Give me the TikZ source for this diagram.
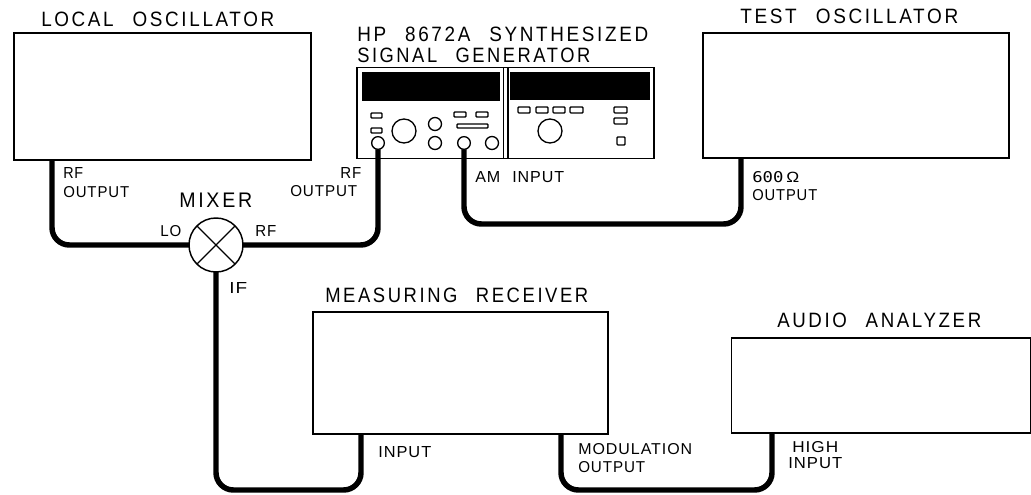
\documentclass[tikz,border=0pt]{standalone}
\usepackage{fontspec}
\usepackage{graphicx}
\setmainfont{Liberation Sans}
\newfontfamily\ttlfont[LetterSpace=14,WordSpace=2.4]{Liberation Sans}
\newfontfamily\lblfont[LetterSpace=6,WordSpace=2.2]{Liberation Sans}
\newfontfamily\zerofont{DejaVu Sans Mono}
\newlength\pxu \setlength\pxu{0.75pt}
\newcommand{\fitT}[2]{\resizebox{#1\pxu}{14.5\pxu}{\ttlfont #2}}
\newcommand{\fitL}[2]{\resizebox{#1\pxu}{11\pxu}{\lblfont #2}}
\tikzset{
  box/.style n args={2}{draw,line width=1pt,fill=white,inner sep=0pt,outer sep=0pt,rectangle,minimum width=#1*0.75pt,minimum height=#2*0.75pt},
  cable/.style={line width=4.1pt,rounded corners=13pt},
  lbl/.style={inner sep=0pt,anchor=north west,align=left},
  ttl/.style={inner sep=0pt,anchor=north west,align=left},
  port/.style={draw,circle,line width=1pt,fill=white,inner sep=0pt,outer sep=0pt,minimum size=9.5pt},
  ctl/.style={draw,line width=1pt,rounded corners=0.7pt},
  knob/.style={draw,line width=1pt},
  panel/.style={fill=black},
}
\begin{document}
\begin{tikzpicture}[x=0.75pt,y=-0.75pt]
\useasboundingbox (0,0) rectangle (1031,495);
\fill[white] (0,0) rectangle (1031,495);
% instruments
\node[box={297}{127}] (lo) at (162.5,96.5) {};
\node[box={306}{125}] (test) at (856,95.5) {};
\node[box={295}{122}] (meas) at (460.5,373) {};
\node[box={299}{95}] (audio) at (881,385.5) {};
\node[box={297}{91}] (gen) at (505.5,113) {};
% generator front panel
\draw[line width=1pt] (503.5,67.5) -- (503.5,158.5) (508,67.5) -- (508,158.5);
\fill[panel] (362,72) rectangle (500,101);
\fill[panel] (510,72) rectangle (650,100);
\draw[ctl] (371,113) rectangle (382,118);
\draw[ctl] (371,128) rectangle (382,133);
\draw[ctl] (454,112) rectangle (466,117);
\draw[ctl] (476,112) rectangle (488,117);
\draw[ctl] (457,124) rectangle (488,128);
\draw[knob] (404,131) circle (12);
\draw[knob] (435,124) circle (6.5);
\draw[ctl] (518,107) rectangle (530,113);
\draw[ctl] (536,107) rectangle (548,113);
\draw[ctl] (553,107) rectangle (565,113);
\draw[ctl] (570,107) rectangle (583,113);
\draw[ctl] (614,107) rectangle (627,113);
\draw[ctl] (614,118) rectangle (627,124);
\draw[ctl] (617,137) rectangle (625,145);
\draw[knob] (550,131) circle (12);
\draw[knob] (435,143) circle (6.5);
\draw[knob] (492,143) circle (6.5);
% mixer and ports
\node[draw,circle,line width=1.1pt,fill=white,inner sep=0pt,outer sep=0pt,minimum size=40.5pt] (mix) at (216,245) {};
\draw[line width=1pt] (mix.45) -- (mix.225) (mix.135) -- (mix.315);
\node[port] (rfport) at (378,143) {};
\node[port] (amport) at (464,143) {};
\coordinate (loout) at (52,160);
\coordinate (testout) at (741,158);
\coordinate (cornerif) at (216,490);
\coordinate (measin) at (361,434);
\coordinate (measout) at (561,434);
\coordinate (highin) at (772,433);
\coordinate (cornermod) at (561,490);
\coordinate (corneram) at (464,224);
% cables
\draw[cable] (loout) |- (mix.west);
\draw[cable] (rfport.south) |- (mix.east);
\draw[cable] (amport.south) -- (corneram) -| (testout);
\draw[cable] (mix.south) -- (cornerif) -| (measin);
\draw[cable] (measout) -- (cornermod) -| (highin);
% titles
\node[ttl] (t1) at (41,12) {\fitT{233}{LOCAL OSCILLATOR}};
\node[ttl] (t2) at (357,27) {\fitT{291}{HP 8672A SYNTHESIZED}};
\node[ttl] (t3) at (357,48) {\fitT{233}{SIGNAL GENERATOR}};
\node[ttl] (t4) at (740,9) {\fitT{218}{TEST OSCILLATOR}};
\node[ttl] (t5) at (179,193) {\fitT{73}{MIXER}};
\node[ttl] (t6) at (325,288) {\fitT{263}{MEASURING RECEIVER}};
\node[ttl] (t7) at (777,313) {\fitT{204}{AUDIO ANALYZER}};
% port labels
\node[lbl] (a1a) at (63,167) {\fitL{20}{RF}};
\node[lbl] (a1b) at (63,186) {\fitL{66}{OUTPUT}};
\node[lbl] (a2a) at (340,167) {\fitL{21}{RF}};
\node[lbl] (a2b) at (290,185) {\fitL{67}{OUTPUT}};
\node[lbl] (a3) at (160,225) {\fitL{21}{LO}};
\node[lbl] (a4) at (255,225) {\fitL{21}{RF}};
\node[lbl] (a5) at (229,282) {\fitL{18}{IF}};
\node[lbl] (a6) at (475,171) {\fitL{89}{AM INPUT}};
\node[lbl] (a7a) at (752,171) {\resizebox{47\pxu}{11\pxu}{{\zerofont 600}\,Ω}};
\node[lbl] (a7b) at (752,189) {\fitL{65}{OUTPUT}};
\node[lbl] (a8) at (378,446) {\fitL{53}{INPUT}};
\node[lbl] (a9a) at (578,443) {\fitL{114}{MODULATION}};
\node[lbl] (a9b) at (578,461) {\fitL{67}{OUTPUT}};
\node[lbl] (a10a) at (792,441) {\fitL{46}{HIGH}};
\node[lbl] (a10b) at (788,457) {\fitL{54}{INPUT}};
\end{tikzpicture}
\end{document}
